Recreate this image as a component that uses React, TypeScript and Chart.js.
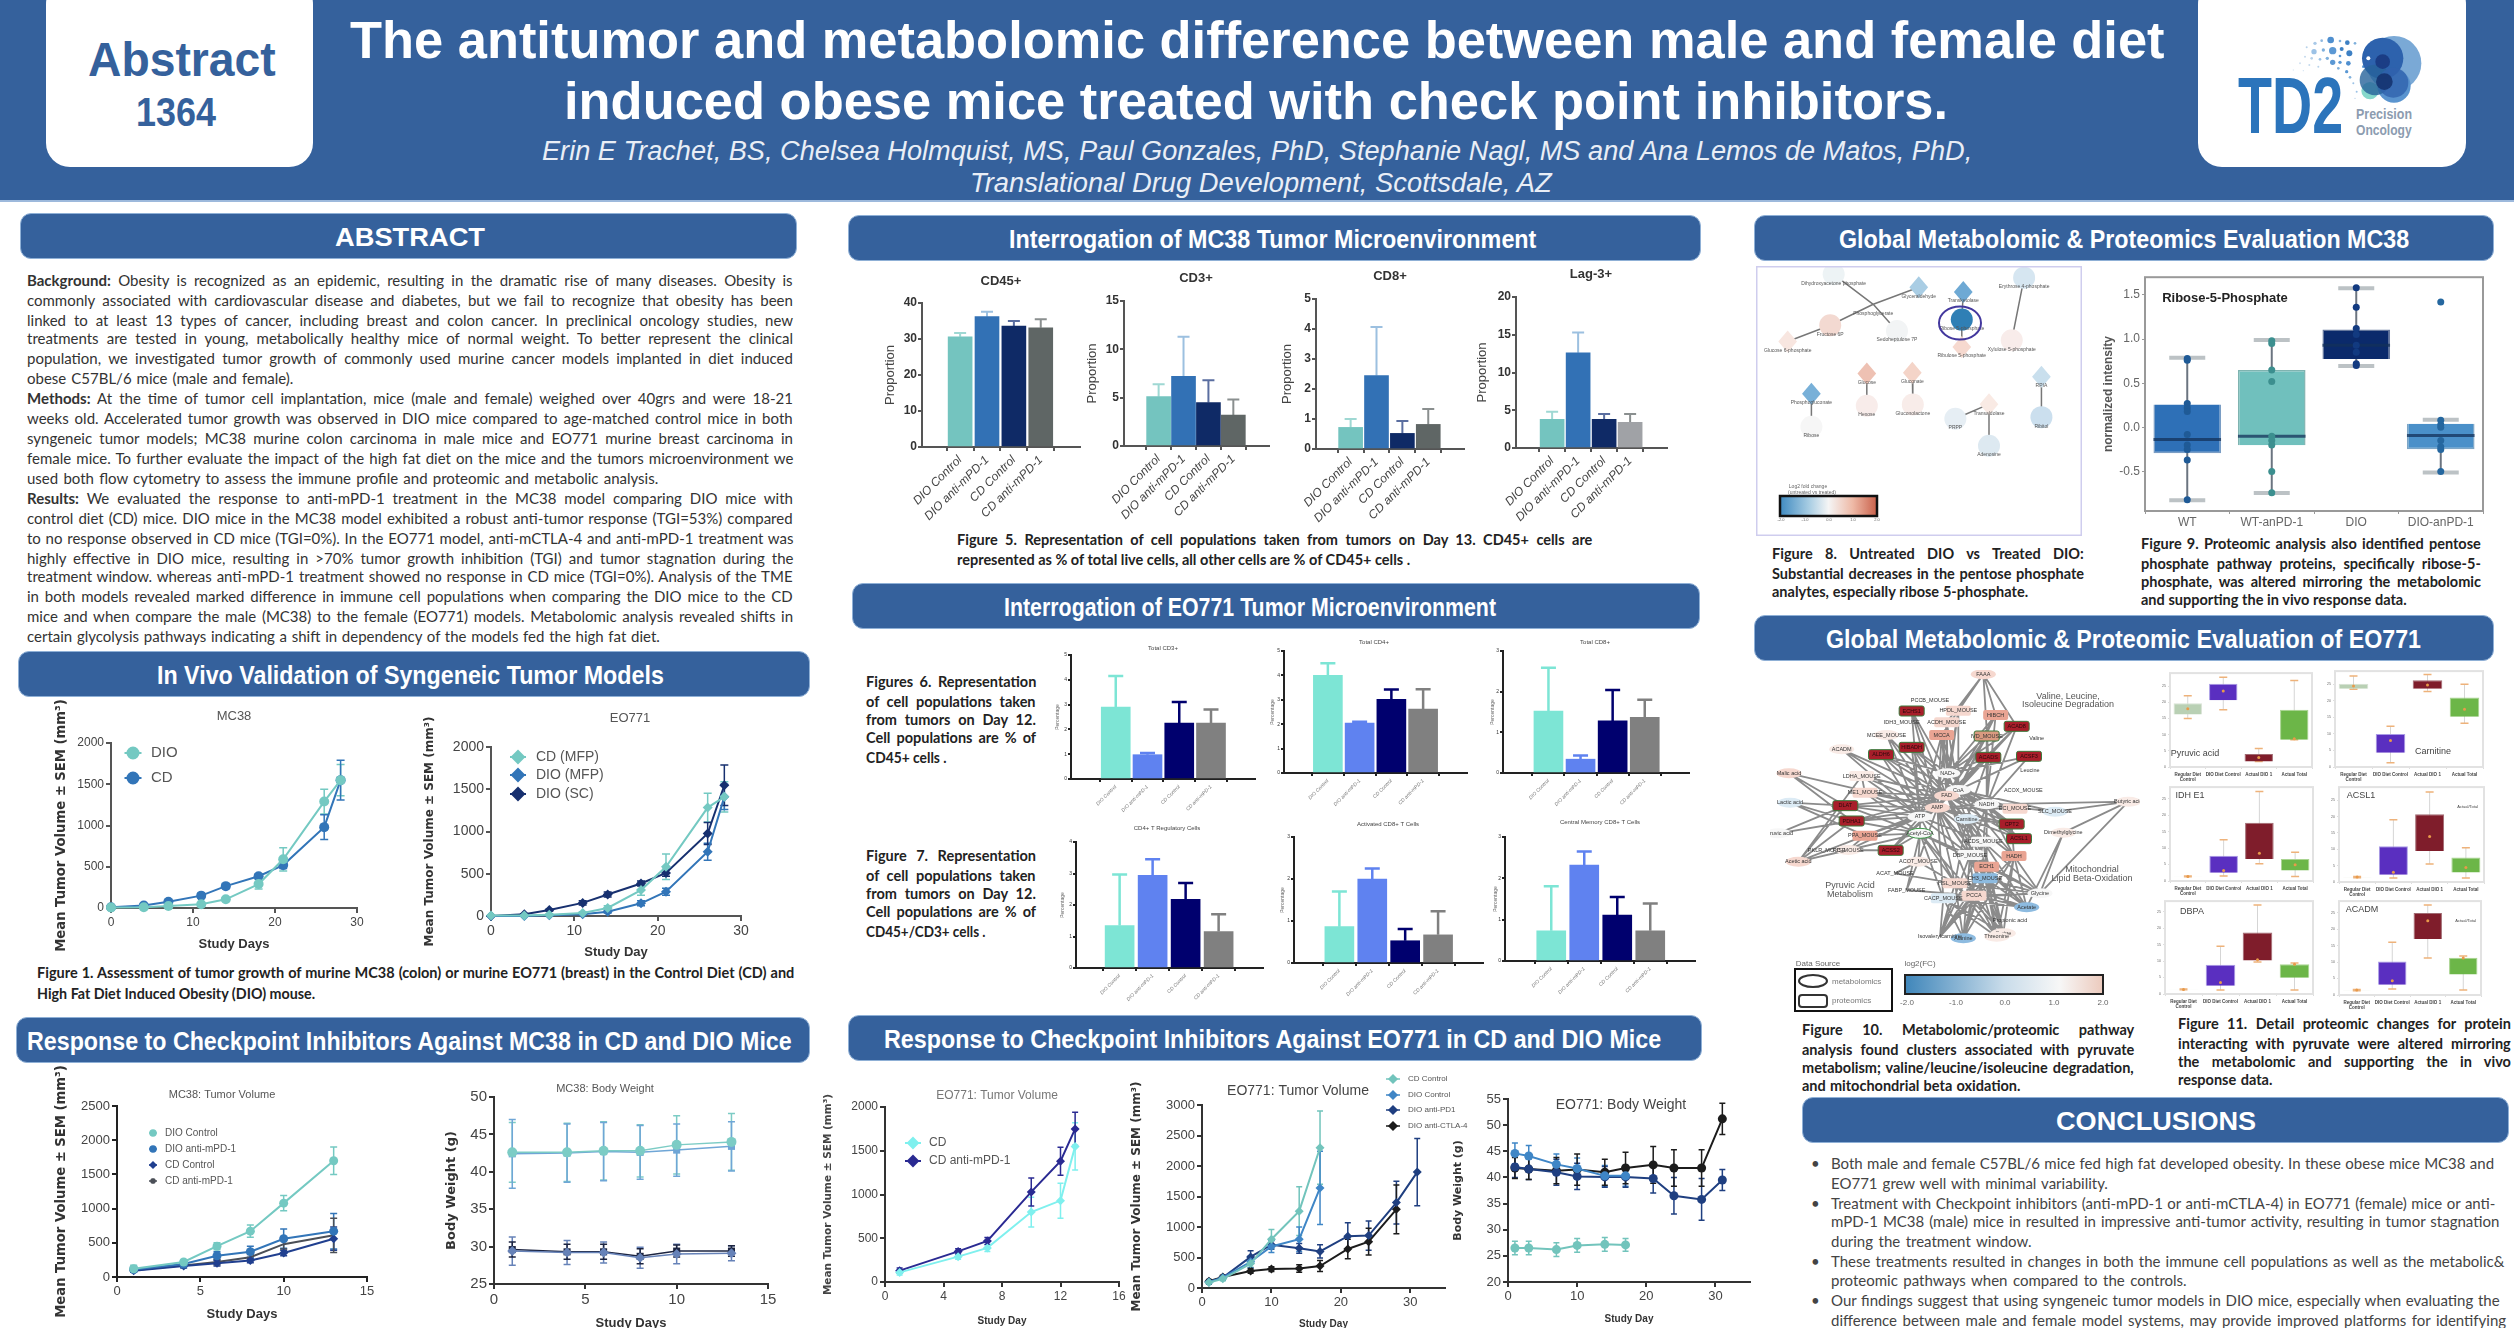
import React, { useEffect, useLayoutEffect, useRef } from 'react';
import { Chart, registerables } from 'chart.js';
import { drawPoint } from 'chart.js/helpers';

Chart.register(...registerables);

/* ---------- data: tumour growth ---------- */
const mc38Days = [0, 4, 7, 11, 14, 18, 21, 26, 28];
const mc38Dio = [5, 10, 25, 45, 105, 290, 590, 1290, 1550];
const mc38DioErr = [5, 5, 8, 15, 20, 60, 140, 150, 190];
const mc38Cd = [10, 30, 75, 150, 265, 385, 520, 980, 1550];
const mc38CdErr = [5, 8, 15, 30, 30, 30, 40, 150, 240];

const eoDays = [0, 4, 7, 11, 14, 18, 21, 26, 28];
const eoCdMfp = [5, 5, 15, 35, 95, 307, 583, 1283, 1410];
const eoCdMfpErr = [5, 5, 8, 15, 25, 60, 150, 170, 180];
const eoDioMfp = [0, 0, 10, 20, 50, 150, 287, 760, 1410];
const eoDioMfpErr = [3, 3, 5, 10, 15, 30, 40, 100, 150];
const eoDioSc = [0, 20, 70, 155, 255, 385, 510, 976, 1547];
const eoDioScErr = [3, 5, 10, 25, 30, 30, 40, 130, 240];

const mc38RespDays = [1, 4, 6, 8, 10, 13];
const tvDioCtrl = [120, 220, 450, 670, 1080, 1700];
const tvDioCtrlErr = [50, 30, 50, 90, 110, 200];
const tvDioAnti = [110, 190, 310, 370, 560, 670];
const tvDioAntiErr = [30, 30, 60, 80, 140, 260];
const tvCdCtrl = [90, 160, 200, 240, 350, 560];
const tvCdCtrlErr = [20, 30, 40, 30, 40, 170];
const tvCdAnti = [100, 170, 220, 290, 480, 610];
const tvCdAntiErr = [20, 20, 40, 40, 70, 250];

const bwDioCtrl = [42.6, 42.6, 42.8, 42.8, 43.6, 44.0];
const bwDioCtrlErr = [4.0, 3.9, 3.9, 3.5, 3.9, 3.8];
const bwDioAnti = [42.4, 42.5, 42.7, 42.6, 42.9, 43.4];
const bwDioAntiErr = [4.6, 3.9, 3.9, 3.6, 3.5, 3.3];
const bwCdCtrl = [29.4, 29.2, 29.2, 28.5, 29.0, 29.1];
const bwCdCtrlErr = [1.9, 1.6, 1.4, 1.4, 1.3, 1.0];
const bwCdAnti = [29.6, 29.3, 29.3, 28.7, 29.4, 29.4];
const bwCdAntiErr = [1, 1, 1, 1, 0.8, 0.7];

const eoADays = [1, 5, 7, 10, 12, 13];
const eoACd = [110, 290, 390, 800, 930, 1550];
const eoACdErr = [30, 30, 40, 170, 200, 270];
const eoAAnti = [130, 350, 470, 1030, 1380, 1750];
const eoAAntiErr = [30, 30, 40, 160, 160, 190];

const eoBShort = [1, 3, 7, 10, 14, 17];
const eoBMid = [1, 3, 7, 10, 14, 17, 21, 24, 28];
const eoBLong = [1, 3, 7, 10, 14, 17, 21, 24, 28, 31];
const eoBCd = [90, 150, 400, 800, 1260, 2300];
const eoBCdErr = [30, 30, 60, 160, 400, 600];
const eoBDio = [100, 170, 430, 680, 800, 1640];
const eoBDioErr = [30, 30, 100, 100, 200, 600];
const eoBPd1 = [100, 170, 510, 710, 650, 600, 850, 860, 1400, 1900];
const eoBPd1Err = [30, 30, 100, 70, 80, 110, 220, 240, 350, 550];
const eoBCtla = [110, 180, 280, 310, 320, 360, 640, 760, 1290];
const eoBCtlaErr = [30, 30, 40, 40, 60, 90, 160, 220, 400];

const eoCCd = [26.5, 26.5, 26.2, 27, 27.2, 27.1];
const eoCCdErr = [1.3, 1.3, 1.3, 1.3, 1.3, 1.2];
const eoCDio = [44.6, 44.1, 42.5, 41.7, 40.3, 40.3];
const eoCDioErr = [2, 2, 2, 2, 2, 2];
const eoCPd1 = [42, 41.6, 41, 40.2, 40.1, 40.1, 39.8, 36.5, 35.8, 39.5];
const eoCPd1Err = [2, 2, 2.5, 2.5, 2, 2, 2.8, 3.5, 4, 2];
const eoCCtla = [41.8, 41.6, 41.3, 41.5, 41, 41.8, 42.4, 41.8, 41.8, 51.2];
const eoCCtlaErr = [2, 2, 2.5, 3, 2.5, 3, 3.5, 3.5, 3.5, 3];

/* ---------- data: cell populations ---------- */
const cellCategories = ['DIO Control', 'DIO anti-mPD-1', 'CD Control', 'CD anti-mPD-1'];
const cd45Vals = [30.6, 36.2, 33.6, 33.1];
const cd45Tops = [31.7, 37.6, 35.0, 35.5];
const cd3Vals = [5.1, 7.2, 4.5, 3.2];
const cd3Tops = [6.4, 11.3, 6.8, 4.8];
const cd8Vals = [0.72, 2.45, 0.52, 0.82];
const cd8Tops = [1.0, 4.07, 0.93, 1.33];
const lag3Vals = [3.8, 12.6, 3.8, 3.4];
const lag3Tops = [4.8, 15.3, 4.5, 4.5];

const f6aVals = [2.9, 0.98, 2.25, 2.25];
const f6aTops = [4.15, 1.05, 3.1, 2.8];
const f6bVals = [4.0, 2.05, 3.02, 2.62];
const f6bTops = [4.5, 2.1, 3.42, 3.43];
const f6cVals = [1.52, 0.34, 1.28, 1.37];
const f6cTops = [2.59, 0.43, 2.04, 1.8];
const f7aVals = [1.35, 2.94, 2.18, 1.16];
const f7aTops = [2.97, 3.45, 2.7, 1.71];
const f7bVals = [0.865, 2.0, 0.53, 0.67];
const f7bTops = [1.7, 2.25, 0.81, 1.23];
const f7cVals = [0.73, 2.32, 1.11, 0.73];
const f7cTops = [1.81, 2.65, 1.55, 1.39];

/* ---------- data: box plots [low, q1, median, q3, high] ---------- */
const riboseCategories = ['WT', 'WT-anPD-1', 'DIO', 'DIO-anPD-1'];
const riboseBoxes = [
  [-0.825, -0.294, -0.138, 0.26, 0.788],
  [-0.744, -0.204, -0.1, 0.65, 0.989],
  [0.695, 0.773, 0.93, 1.108, 1.576],
  [-0.51, -0.249, -0.093, 0.04, 0.085],
];
const ribosePoints = [
  [0.78, 0.76, 0.27, 0.22, 0.18, -0.08, -0.2, -0.25, -0.37, -0.82],
  [0.98, 0.95, 0.65, 0.52, -0.1, -0.15, -0.2, -0.5, -0.74],
  [1.58, 1.36, 1.12, 1.05, 0.93, 0.85, 0.72, 0.7],
  [1.42, 0.08, 0.03, 0, -0.15, -0.22, -0.25, -0.5],
];
const proteinCategories = [['Regular Diet', 'Control'], 'DIO Diet Control', 'Actual DIO 1', 'Actual Total'];
const pyruvateBoxes = [[15, 16.2, 18, 19.7, 22], [17.7, 20.6, 23.5, 25.7, 27.7], [1.7, 1.7, 2.9, 4, 5.7], [8.4, 8.4, 8.7, 17.7, 26.7]];
const carnitineBoxes = [[23.5, 23.7, 24.5, 25.2, 27.5], [1.3, 4.3, 8, 10, 12.3], [22.8, 23.7, 24.8, 26.2, 28], [13.2, 15.2, 17.5, 21, 25]];
const idhBoxes = [[1.3, 1.35, 1.4, 1.45, 1.5], [1.5, 2.5, 3.2, 7.7, 12.5], [5.2, 6.7, 8.4, 17.7, 27.2], [1.4, 3.2, 4.9, 6.7, 8.7]];
const acslBoxes = [[1.3, 1.45, 1.5, 1.55, 1.7], [1.2, 2.2, 3, 10.9, 19], [5.5, 9.5, 13.9, 20.7, 27.5], [1.2, 2.9, 4.4, 7.5, 10.5]];
const dbpaBoxes = [[1.3, 1.35, 1.4, 1.45, 1.5], [1.2, 2.5, 3.5, 8.9, 14.5], [9.7, 10.2, 10.4, 18.7, 27], [1.2, 4.9, 9, 9, 9.4]];
const acadmBoxes = [[1.3, 1.45, 1.5, 1.55, 1.7], [1.8, 3.1, 4.3, 10.2, 16], [11.2, 17, 22.5, 24.9, 27.3], [1.5, 6.2, 11.2, 11.3, 11.8]];

/* ---------- data: networks: [x, y, shape, fill, label] ---------- */
const RED = '#a81e2a', SAL = '#e9a493', PINK = '#f6d8cf', PALE = '#f9ebe6', WHT = '#f7f7f7', BLU = '#8dbbe0', LBL = '#dcebf5';
const net10Nodes: any[] = [
  [640, 13, 'oval', PINK, 'FAAA'], [425, 123, 'rect', RED, 'ECHS1'], [565, 122, 'rect', PINK, 'HPDL_MOUSE'], [677, 135, 'rect', SAL, 'HIBCH'],
  [530, 157, 'rect', PINK, 'ACDH_MOUSE'], [740, 169, 'rect', RED, 'ACAD8'], [515, 195, 'rect', SAL, 'MCCA'], [650, 198, 'rectg', '#d99a80', 'IVD_MOUSE'],
  [425, 232, 'rect', RED, 'HIBADH'], [333, 254, 'rect', RED, 'ALDH6'], [655, 262, 'rect', RED, 'ACADS'], [777, 259, 'rect', RED, 'ACSF3'],
  [350, 195, 'oval', PALE, 'MCEE_MOUSE'], [215, 238, 'oval', PALE, 'ACADM'], [275, 318, 'rect', PALE, 'LDHA_MOUSE'], [57, 310, 'oval', PINK, 'Malic acid'],
  [60, 398, 'oval', LBL, 'Lactic acid'], [285, 368, 'rect', PINK, 'ME1_MOUSE'], [226, 407, 'rect', RED, 'DLAT'], [245, 453, 'rect', RED, 'PDHA1'],
  [285, 497, 'rect', SAL, 'PPA_MOUSE'], [25, 490, 'oval', WHT, 'Pyruvic acid'], [85, 575, 'oval', PINK, 'Acetic acid'], [235, 540, 'oval', PALE, 'PC_MOUSE'],
  [362, 541, 'rect', RED, 'ACSS2'], [445, 575, 'oval', PALE, 'ACOT_MOUSE'], [533, 310, 'oval', WHT, 'NAD+'], [565, 360, 'oval', WHT, 'CoA'],
  [530, 377, 'oval', PINK, 'FAD'], [502, 413, 'oval', PINK, 'AMP'], [450, 440, 'oval', WHT, 'ATP'], [590, 447, 'oval', LBL, 'Carnitine'],
  [650, 403, 'oval', WHT, 'NADH'], [450, 490, 'ovalg', WHT, 'Acetyl-CoA'], [725, 462, 'rect', RED, 'CPT2'], [747, 506, 'rect', RED, 'ACSL1'],
  [735, 416, 'rect', PINK, 'ECI_MOUSE'], [855, 425, 'oval', LBL, 'SLC_MOUSE'], [1075, 395, 'oval', PALE, 'Butyric acid'], [880, 488, 'oval', PALE, 'Dimethylglycine'],
  [640, 515, 'rect', WHT, 'ACDS_MOUSE'], [600, 555, 'rect', WHT, 'DBP_MOUSE'], [732, 558, 'rect', SAL, 'HADH'], [650, 590, 'rect', SAL, 'ECH1'],
  [645, 625, 'rect', BLU, 'CH3_MOUSE'], [555, 640, 'rect', PINK, 'HSL_MOUSE'], [612, 677, 'rect', PINK, 'PCCA'], [520, 685, 'rect', LBL, 'CACP_MOUSE'],
  [410, 660, 'none', '', 'FABP_MOUSE'], [770, 712, 'oval', BLU, 'Acetate'], [810, 670, 'oval', WHT, 'Glycine'], [720, 750, 'none', '', 'Propionic acid'],
  [700, 790, 'oval', PALE, 'Serine'], [580, 805, 'oval', BLU, 'Alanine'], [510, 800, 'none', '', 'Isovalerylcarnitine'], [680, 800, 'oval', PALE, 'Threonine'],
  [375, 610, 'none', '', 'ACAT_MOUSE'], [480, 92, 'none', '', 'PCCB_MOUSE'], [395, 157, 'none', '', 'IDH3_MOUSE'], [800, 205, 'none', '', 'Valine'],
  [780, 300, 'none', '', 'Leucine'], [760, 360, 'none', '', 'ACOX_MOUSE'], [170, 540, 'none', '', 'PKLR_MOUSE'],
];
const net10Edges = [
  [0, 2], [0, 3], [0, 4], [0, 5], [0, 6], [0, 10],
  [1, 26], [1, 28], [2, 26], [3, 26], [3, 27], [4, 26], [4, 28], [5, 27], [5, 26], [6, 26], [6, 28], [6, 29],
  [7, 26], [7, 28], [7, 27], [8, 26], [8, 28], [8, 29], [8, 30], [9, 28], [9, 29], [9, 30],
  [10, 26], [10, 27], [10, 28], [10, 32], [10, 31], [11, 27], [11, 32], [12, 28], [13, 30], [14, 29], [14, 30],
  [15, 18], [15, 19], [15, 29], [16, 19], [16, 18], [16, 20], [17, 29], [17, 30], [17, 28],
  [18, 30], [18, 29], [18, 28], [18, 33], [19, 30], [19, 33], [19, 29], [19, 28], [20, 33], [20, 30],
  [21, 18], [21, 19], [22, 19], [22, 20], [22, 18], [22, 14], [23, 30], [23, 33], [24, 33], [24, 30], [24, 29], [25, 29], [25, 33],
  [34, 31], [34, 32], [34, 27], [35, 31], [35, 32], [35, 28], [36, 32], [36, 28], [36, 29], [37, 32], [37, 27],
  [38, 32], [38, 39], [38, 37], [39, 50], [38, 50], [39, 49], [34, 42],
  [26, 31], [28, 31], [29, 31], [29, 41], [28, 41], [29, 40], [28, 40], [27, 40], [31, 41], [31, 43], [33, 41], [33, 45], [33, 47], [29, 45], [29, 43], [30, 45],
  [40, 52], [40, 53], [40, 50], [40, 54], [40, 55], [41, 53], [41, 54], [41, 52], [41, 55], [41, 50],
  [42, 50], [42, 49], [42, 52], [42, 53], [42, 54], [42, 55], [43, 53], [43, 54], [43, 52], [43, 50], [43, 55],
  [44, 53], [44, 54], [44, 52], [44, 50], [44, 55], [45, 53], [45, 54], [45, 52], [45, 50], [45, 55],
  [46, 53], [46, 54], [46, 52], [46, 50], [46, 55], [47, 54], [47, 53], [47, 52], [47, 49], [47, 50], [47, 55],
  [25, 48], [25, 56], [48, 46], [56, 45], [24, 23], [14, 17], [20, 23], [22, 23],
  [1, 29], [1, 30], [2, 27], [2, 28], [3, 28], [3, 32], [4, 27], [4, 29], [5, 28], [5, 32], [6, 27], [6, 30], [7, 29], [7, 32], [8, 27],
  [9, 26], [9, 27], [10, 29], [11, 28], [11, 26], [12, 29], [12, 30], [13, 28], [13, 29], [14, 28], [17, 33], [20, 29], [23, 29], [24, 28],
  [34, 28], [34, 29], [35, 27], [35, 29], [36, 27], [26, 30], [26, 32], [27, 32], [28, 32], [29, 32], [30, 33], [30, 41], [30, 40], [31, 40],
  [31, 42], [32, 40], [32, 42], [32, 43], [33, 43], [33, 46], [29, 46], [29, 44], [29, 47], [28, 43], [28, 44], [31, 44], [31, 45], [31, 46],
  [27, 42], [32, 41], [40, 49], [41, 49], [43, 49], [44, 49], [45, 49], [46, 49], [33, 48], [25, 45],
];
const net8Nodes: any[] = [
  [190, 222, 'circle', '#edf3f5', 'Dihydroxyacetone phosphate'], [362, 261, 'diamond', '#a9cde4', 'Glyceraldehyde'], [452, 275, 'diamond', '#6ea9d4', 'Transketolase'],
  [449, 358, 'circle', '#2f7fb5', 'Ribose 5-phosphate'], [575, 232, 'circle', '#d6e6f1', 'Erythrose 4-phosphate'], [318, 392, 'circle', '#f2f4f5', 'Sedoheptulose 7P'],
  [183, 375, 'circle', '#f3d9d1', 'Fructose 6P'], [97, 424, 'diamond', '#f8e6e0', 'Glucose 6-phosphate'], [449, 440, 'diamond', '#f6d9cf', 'Ribulose 5-phosphate'],
  [550, 420, 'circle', '#f8ecea', 'Xylulose 5-phosphate'], [257, 520, 'diamond', '#eec1b3', 'Glucose'], [349, 518, 'diamond', '#f4d4c8', 'Gluconate'],
  [257, 617, 'circle', '#f8ecea', 'Hexose'], [350, 613, 'circle', '#f8ece9', 'Gluconolactone'], [145, 581, 'diamond', '#78b0d8', 'Phosphogluconate'],
  [145, 680, 'circle', '#f6f6f6', 'Ribose'], [436, 656, 'circle', '#e6eef4', 'PRPP'], [504, 612, 'diamond', '#f9eae4', 'Transaldolase'],
  [504, 737, 'circle', '#dde9f1', 'Adenosine'], [610, 530, 'diamond', '#c9dfed', 'RPIA'], [610, 651, 'circle', '#cbdfee', 'Ribitol'],
  [270, 312, 'none', '', 'Phosphoglycerate'],
];
const net8Edges = [[0, 21], [1, 21], [21, 6], [6, 7], [21, 5], [2, 3], [3, 8], [4, 9], [10, 12], [11, 13], [14, 15], [16, 17], [17, 18], [19, 20]];

/* ---------- text ---------- */
const abstractLines: [string, string][] = [
  ['Background:', ' Obesity is recognized as an epidemic, resulting in the dramatic rise of many diseases. Obesity is'],
  ['', 'commonly associated with cardiovascular disease and diabetes, but we fail to recognize that obesity has been'],
  ['', 'linked to at least 13 types of cancer, including breast and colon cancer. In preclinical oncology studies, new'],
  ['', 'treatments are tested in young, metabolically healthy mice of normal weight. To better represent the clinical'],
  ['', 'population, we investigated tumor growth of commonly used murine cancer models implanted in diet induced'],
  ['', 'obese C57BL/6 mice (male and female).'],
  ['Methods:', ' At the time of tumor cell implantation, mice (male and female) weighed over 40grs and were 18-21'],
  ['', 'weeks old. Accelerated tumor growth was observed in DIO mice compared to age-matched control mice in both'],
  ['', 'syngeneic tumor models; MC38 murine colon carcinoma in male mice and EO771 murine breast carcinoma in'],
  ['', 'female mice. To further evaluate the impact of the high fat diet on the mice and the tumors microenvironment we'],
  ['', 'used both flow cytometry to assess the immune profile and proteomic and metabolic analysis.'],
  ['Results:', ' We evaluated the response to anti-mPD-1 treatment in the MC38 model comparing DIO mice with'],
  ['', 'control diet (CD) mice. DIO mice in the MC38 model exhibited a robust anti-tumor response (TGI=53%) compared'],
  ['', 'to no response observed in CD mice (TGI=0%). In the EO771 model, anti-mCTLA-4 and anti-mPD-1 treatment was'],
  ['', 'highly effective in DIO mice, resulting in >70% tumor growth inhibition (TGI) and tumor stagnation during the'],
  ['', 'treatment window. whereas anti-mPD-1 treatment showed no response in CD mice (TGI=0%). Analysis of the TME'],
  ['', 'in both models revealed marked difference in immune cell populations when comparing the DIO mice to the CD'],
  ['', 'mice and when compare the male (MC38) to the female (EO771) models. Metabolomic analysis revealed shifts in'],
  ['', 'certain glycolysis pathways indicating a shift in dependency of the models fed the high fat diet.'],
];
const abstractY = [280, 300, 320, 338, 358, 378, 398, 418, 438, 458, 478, 498, 518, 538, 558, 576, 596, 616, 636];
const abstractW = [766, 766, 766, 766, 766, 266, 766, 766, 766, 766, 631, 766, 766, 766, 766, 766, 766, 766, 633];

const conclusionLines: [string, number, number, boolean][] = [
  ['Both male and female C57BL/6 mice fed high fat developed obesity. In these obese mice MC38 and', 1163, 663, true],
  ['EO771 grew well with minimal variability.', 1183, 277, false],
  ['Treatment with Checkpoint inhibitors (anti-mPD-1 or anti-mCTLA-4) in EO771 (female) mice or anti-', 1203, 664, true],
  ['mPD-1 MC38 (male) mice in resulted in impressive anti-tumor activity, resulting in tumor stagnation', 1221, 668, false],
  ['during the treatment window.', 1241, 201, false],
  ['These treatments resulted in changes in both the immune cell populations as well as the metabolic&', 1261, 673, true],
  ['proteomic pathways when compared to the controls.', 1280, 356, false],
  ['Our findings suggest that using syngeneic tumor models in DIO mice, especially when evaluating the', 1300, 669, true],
  ['difference between male and female model systems, may provide improved platforms for identifying', 1320, 675, false],
];
const logoDots = [
  [422, 120, 10, '#4f8fcf'], [395, 122, 4, '#8fb8e0'], [375, 130, 5, '#a9c9e8'], [450, 123, 4, '#7fb0dc'], [472, 128, 7, '#3d80c4'], [495, 130, 4, '#7fb0dc'],
  [350, 142, 3, '#b8d2ea'], [372, 155, 8, '#9cc2e6'], [400, 150, 5, '#7fb0dc'], [428, 152, 11, '#5b98d4'], [455, 147, 6, '#3d80c4'], [478, 160, 9, '#3d80c4'],
  [345, 170, 3, '#c5daee'], [365, 175, 4, '#b8d2ea'], [390, 178, 4, '#9cc2e6'], [412, 175, 5, '#7fb0dc'], [450, 168, 4, '#5b98d4'], [475, 190, 7, '#4f8fcf'],
  [330, 190, 3, '#d3e3f2'], [358, 195, 3, '#c5daee'], [385, 200, 3, '#b8d2ea'], [428, 187, 8, '#5b98d4'], [450, 187, 5, '#5b98d4'], [520, 200, 4, '#5b98d4'],
  [445, 205, 4, '#7fb0dc'], [470, 215, 5, '#5b98d4'], [480, 232, 4, '#7fb0dc'], [490, 250, 3, '#9cc2e6'], [500, 275, 3, '#9cc2e6'], [495, 295, 2, '#b8d2ea'],
  [310, 210, 2, '#dbe8f4'], [340, 212, 2, '#d3e3f2'],
];
const logoWhiteDots = [[515, 148, 7], [507, 180, 9], [535, 175, 6], [497, 213, 7]];

/* ---------- layout / style ---------- */
const SANS = '"Liberation Sans", Arial, sans-serif';
const BODY = 'Lato, "Open Sans", sans-serif';
const WIDE = '"DejaVu Sans", sans-serif';
const BLUE = '#35619c';
const C_TEAL = '#74c9c2', C_BLUE = '#3275b8', C_NAVY = '#17306f';

/* ---------- plugins ---------- */
const overlay = {
  id: 'overlay',
  afterDraw(chart: any, _a: any, o: any) {
    if (!o || !o.items) return;
    const c = chart.ctx;
    const ox = o.ox || 0, oy = o.oy || 0;
    for (const it of o.items) {
      c.save();
      if (it.kind === 'grad') {
        const g = c.createLinearGradient(it.x - ox, 0, it.x - ox + it.w, 0);
        it.stops.forEach((s: any) => g.addColorStop(s[0], s[1]));
        c.fillStyle = g;
        c.fillRect(it.x - ox, it.y - oy, it.w, it.h);
        c.lineWidth = it.lw || 2;
        c.strokeStyle = it.stroke || '#222';
        c.strokeRect(it.x - ox, it.y - oy, it.w, it.h);
      } else if (it.kind === 'box') {
        c.lineWidth = it.lw || 2;
        c.strokeStyle = it.stroke || '#222';
        c.beginPath();
        c.roundRect(it.x - ox, it.y - oy, it.w, it.h, it.radius || 0);
        c.stroke();
      } else if (it.kind === 'oval') {
        c.lineWidth = it.lw || 2;
        c.strokeStyle = it.stroke || '#222';
        c.beginPath();
        c.ellipse(it.x - ox, it.y - oy, it.rx, it.ry, 0, 0, Math.PI * 2);
        c.stroke();
      } else if (it.kind === 'legend') {
        c.strokeStyle = it.color;
        c.fillStyle = it.color;
        c.lineWidth = it.lw || 2;
        c.beginPath();
        c.moveTo(it.x - it.len / 2 - ox, it.y - oy);
        c.lineTo(it.x + it.len / 2 - ox, it.y - oy);
        c.stroke();
        drawPoint(c, { pointStyle: it.style, radius: it.r, borderWidth: 1, rotation: 0 }, it.x - ox, it.y - oy);
        c.fillStyle = it.tcolor || '#444';
        c.font = it.font;
        c.textAlign = 'left';
        c.textBaseline = 'middle';
        c.fillText(it.text, it.labelX - ox, it.y - oy);
      } else {
        c.font = it.font;
        c.fillStyle = it.color || '#444';
        c.textAlign = it.align || 'center';
        c.textBaseline = 'middle';
        c.translate(it.x - ox, it.y - oy);
        if (it.rot) c.rotate(it.rot);
        c.fillText(it.text, 0, 0);
      }
      c.restore();
    }
    if (o.frame) {
      const a = chart.chartArea;
      c.save();
      c.strokeStyle = o.frame.color;
      c.lineWidth = o.frame.width;
      c.strokeRect(a.left, a.top, a.right - a.left, a.bottom - a.top);
      c.restore();
    }
  },
};
const errorBars = {
  id: 'errorBars',
  beforeDatasetsDraw(chart: any) {
    const c = chart.ctx;
    chart.data.datasets.forEach((ds: any, di: number) => {
      if (!ds.errs && !ds.tops) return;
      const meta = chart.getDatasetMeta(di);
      const yS = chart.scales.y;
      meta.data.forEach((pt: any, i: number) => {
        let hi, lo;
        if (ds.errs) {
          hi = yS.getPixelForValue(ds.data[i].y + ds.errs[i]);
          lo = yS.getPixelForValue(ds.data[i].y - ds.errs[i]);
        } else {
          hi = yS.getPixelForValue(ds.tops[i]);
          lo = yS.getPixelForValue(ds.data[i].y);
        }
        const col = Array.isArray(ds.errColor) ? ds.errColor[i] : ds.errColor;
        c.save();
        c.strokeStyle = col;
        c.lineWidth = ds.errWidth || 1.5;
        c.beginPath();
        c.moveTo(pt.x, hi);
        c.lineTo(pt.x, lo);
        const w = (ds.capW || 6) / 2;
        c.moveTo(pt.x - w, hi);
        c.lineTo(pt.x + w, hi);
        if (ds.errs) {
          c.moveTo(pt.x - w, lo);
          c.lineTo(pt.x + w, lo);
        }
        c.stroke();
        c.restore();
      });
    });
  },
};
const boxWhiskers = {
  id: 'boxWhiskers',
  beforeDatasetsDraw(chart: any) {
    const c = chart.ctx;
    chart.data.datasets.forEach((ds: any, di: number) => {
      if (!ds.boxes) return;
      const meta = chart.getDatasetMeta(di);
      const yS = chart.scales.y;
      ds.boxes.forEach((b: number[], i: number) => {
        const x = meta.data[i].x;
        c.save();
        c.strokeStyle = ds.stemColor;
        c.lineWidth = ds.stemWidth;
        c.beginPath();
        c.moveTo(x, yS.getPixelForValue(b[0]));
        c.lineTo(x, yS.getPixelForValue(b[4]));
        c.stroke();
        c.strokeStyle = ds.capColor;
        c.lineWidth = ds.capWidth;
        c.beginPath();
        [b[0], b[4]].forEach((v) => {
          c.moveTo(x - ds.capW / 2, yS.getPixelForValue(v));
          c.lineTo(x + ds.capW / 2, yS.getPixelForValue(v));
        });
        c.stroke();
        c.restore();
      });
    });
  },
  afterDatasetDraw(chart: any, args: any) {
    const ds = chart.data.datasets[args.index];
    if (!ds.boxes) return;
    const c = chart.ctx;
    const yS = chart.scales.y;
    args.meta.data.forEach((bar: any, i: number) => {
      const y = yS.getPixelForValue(ds.boxes[i][2]);
      c.save();
      if (ds.medianDot) {
        c.fillStyle = ds.medianColor;
        c.beginPath();
        c.arc(bar.x, y, ds.medianDot, 0, Math.PI * 2);
        c.fill();
      } else {
        c.strokeStyle = ds.medianColor;
        c.lineWidth = ds.medianWidth || 2;
        c.beginPath();
        c.moveTo(bar.x - bar.width / 2, y);
        c.lineTo(bar.x + bar.width / 2, y);
        c.stroke();
      }
      c.restore();
    });
  },
};
const netNodes = {
  id: 'netNodes',
  afterDatasetsDraw(chart: any, _a: any, o: any) {
    if (!o || !o.nodes) return;
    const c = chart.ctx;
    const X = chart.scales.x, Y = chart.scales.y;
    for (const n of o.nodes) {
      const x = X.getPixelForValue(n[0]), y = Y.getPixelForValue(n[1]);
      const shape = n[2];
      c.save();
      c.fillStyle = n[3] || 'transparent';
      if (shape === 'rect' || shape === 'rectg') {
        c.beginPath();
        c.roundRect(x - o.rw / 2, y - o.rh / 2, o.rw, o.rh, 2);
        c.fill();
        if (shape === 'rectg' || n[3] === RED) {
          c.strokeStyle = '#3b7a3c';
          c.lineWidth = 1;
          c.stroke();
        }
      } else if (shape === 'oval' || shape === 'ovalg') {
        c.beginPath();
        c.ellipse(x, y, o.rw / 2, o.rh / 2, 0, 0, Math.PI * 2);
        c.fill();
        if (shape === 'ovalg') {
          c.strokeStyle = '#3f9a4a';
          c.lineWidth = 1;
          c.stroke();
        }
      } else if (shape === 'circle') {
        c.beginPath();
        c.arc(x, y, o.r, 0, Math.PI * 2);
        c.fill();
      } else if (shape === 'diamond') {
        c.beginPath();
        c.moveTo(x, y - o.r);
        c.lineTo(x + o.r * 0.85, y);
        c.lineTo(x, y + o.r);
        c.lineTo(x - o.r * 0.85, y);
        c.closePath();
        c.fill();
      }
      if (n[4]) {
        const dark = n[3] === RED;
        c.fillStyle = dark ? '#2a0a0c' : o.labelColor;
        c.font = o.labelFont;
        c.textAlign = 'center';
        c.textBaseline = 'middle';
        c.fillText(n[4], x, y + (o.labelDy || 0));
      }
      c.restore();
    }
  },
};
Chart.register(overlay, errorBars, boxWhiskers, netNodes);

/* ---------- chart config helpers ---------- */
const axis = (color: string, width: number, tick: number) => ({
  border: { display: true, color, width },
  grid: { display: true, drawOnChartArea: false, drawTicks: true, tickLength: tick, color, lineWidth: width },
});

function base(rect: any, items: any[], frame?: any) {
  return {
    responsive: false,
    maintainAspectRatio: false,
    animation: false,
    layout: { autoPadding: false, padding: { left: 0, top: rect.mT, right: rect.mR, bottom: 0 } },
    plugins: {
      legend: { display: false },
      title: { display: false },
      tooltip: { enabled: false },
      overlay: { ox: rect.left, oy: rect.top, items, frame },
    },
  };
}

function rectFor(s: any, mT = 60, mR = 70) {
  const yLh = (s.yTitle?.size || 12) * 1.2;
  const xLh = (s.xTitle?.size || 12) * 1.2;
  const left = Math.floor(s.yTitle ? s.yTitle.x - yLh / 2 : s.l - (s.mL || 30));
  const top = s.t - mT;
  const bottom = Math.ceil(s.xTitle ? s.xTitle.y + xLh / 2 : s.b + (s.mB || 30));
  const right = s.r + mR;
  return { left, top, width: right - left, height: bottom - top, mL: s.l - left, mT, mR, mB: bottom - s.b };
}

function linePlot(s: any) {
  const rect = rectFor(s, s.mT || 60, s.mR || 70);
  const items: any[] = [];
  if (s.title) items.push({ text: s.title.text, x: s.title.x, y: s.title.y, font: s.title.font, color: s.title.color || '#555' });
  (s.series || []).forEach((d: any, i: number) => {
    if (s.legend)
      items.push({
        kind: 'legend', x: s.legend.x, y: s.legend.ys[i], len: s.legend.len, labelX: s.legend.labelX, color: d.color,
        style: d.style || 'circle', r: s.legend.r, text: d.label, font: s.legend.font, tcolor: s.legend.color, lw: s.legend.lw,
      });
  });
  const xA = axis(s.axisColor || '#555', s.axisW || 2, 5);
  const yA = axis(s.axisColor || '#555', s.axisW || 2, 5);
  const tick = { font: { family: SANS, size: s.tickSize || 12 }, color: s.tickColor || '#444', padding: 2, includeBounds: false, callback: (v: number) => String(v) };
  return {
    rect,
    config: {
      type: 'line',
      data: {
        datasets: s.series.map((d: any) => ({
          label: d.label,
          data: d.days.map((x: number, i: number) => ({ x, y: d.vals[i] })),
          errs: d.errs,
          errColor: d.color,
          errWidth: s.errW || 1.5,
          capW: s.capW || 7,
          borderColor: d.color,
          backgroundColor: d.color,
          borderWidth: s.lineW || 2,
          pointStyle: d.style || 'circle',
          pointRadius: s.pointR || 4,
          pointBorderWidth: 0,
          tension: 0,
          clip: false,
        })),
      },
      options: {
        ...base(rect, items),
        scales: {
          x: {
            type: 'linear', min: 0, max: s.xMax, ...xA,
            ticks: { ...tick, stepSize: s.xStep },
            title: s.xTitle ? { display: true, text: s.xTitle.text, padding: 0, color: s.xTitle.color || '#333', font: { family: s.xTitle.family || SANS, size: s.xTitle.size, weight: s.xTitle.weight || 'bold' } } : undefined,
            afterFit: (a: any) => { a.height = rect.mB; },
          },
          y: {
            type: 'linear', min: s.yMin || 0, max: s.yMax, ...yA,
            ticks: { ...tick, stepSize: s.yStep },
            title: s.yTitle ? { display: true, text: s.yTitle.text, padding: 0, color: s.yTitle.color || '#333', font: { family: s.yTitle.family || WIDE, size: s.yTitle.size, weight: s.yTitle.weight || 'bold' } } : undefined,
            afterFit: (a: any) => { a.width = rect.mL; },
          },
        },
      },
    },
  };
}

function barPlot(s: any) {
  const rect = rectFor(s, s.mT || 40, s.mR || 10);
  const spacing = (s.c3 - s.c0) / 3;
  const xMin = -(s.c0 - s.l) / spacing;
  const xMax = 3 + (s.r - s.c3) / spacing;
  const items = [{ text: s.title.text, x: s.title.x, y: s.title.y, font: s.title.font, color: s.title.color || '#333' }];
  const a = axis(s.axisColor || '#555', s.axisW || 2, s.tickLen || 4);
  return {
    rect,
    config: {
      type: 'bar',
      data: {
        datasets: [{
          label: s.title.text,
          data: s.vals.map((y: number, x: number) => ({ x, y })),
          tops: s.tops,
          errColor: s.errColors,
          errWidth: s.errW || 2,
          capW: s.capW || 10,
          backgroundColor: s.colors,
          barThickness: s.barW,
          borderWidth: 0,
          clip: false,
        }],
      },
      options: {
        ...base(rect, items),
        scales: {
          x: {
            type: 'linear', min: xMin, max: xMax, ...a,
            afterBuildTicks: (sc: any) => { sc.ticks = cellCategories.map((_, value) => ({ value })); },
            ticks: {
              autoSkip: false, minRotation: 45, maxRotation: 45, padding: s.labPad ?? 2,
              color: s.labColor || '#444',
              font: { family: SANS, size: s.labSize || 12, style: 'italic' },
              callback: (v: number) => cellCategories[v],
            },
            title: undefined,
            afterFit: (sc: any) => { sc.height = rect.mB; },
          },
          y: {
            type: 'linear', min: 0, max: s.yMax, ...a,
            ticks: { stepSize: s.yStep, color: '#333', padding: 1, font: { family: SANS, size: s.tickSize || 12, weight: s.tickWeight || 'normal' } },
            title: s.yTitle ? { display: true, text: s.yTitle.text, padding: 0, color: s.yTitle.color || '#444', font: { family: SANS, size: s.yTitle.size, weight: s.yTitle.weight || 'normal' } } : undefined,
            afterFit: (sc: any) => { sc.width = rect.mL; },
          },
        },
      },
    },
  };
}

function boxPlot(s: any) {
  const rect = rectFor(s, s.mT || 4, s.mR || 4);
  const q = s.boxes;
  const d0: any = {
    type: 'bar',
    label: s.label,
    data: q.map((b: number[]) => [b[1], b[3]]),
    boxes: q,
    backgroundColor: s.colors,
    borderColor: s.borders,
    borderWidth: s.borderW ?? 1,
    barPercentage: s.barPct || 0.8,
    categoryPercentage: 1,
    stemColor: s.stem,
    stemWidth: s.stemW,
    capColor: s.capC,
    capWidth: s.capLW,
    capW: s.capW,
    medianColor: s.median,
    medianDot: s.medianDot,
    medianWidth: s.medianW,
    order: 2,
  };
  const datasets: any[] = [d0];
  if (s.points) {
    datasets.push({
      type: 'scatter',
      label: 'samples',
      data: s.points.flatMap((arr: number[], x: number) => arr.map((y) => ({ x: s.cats[x], y }))),
      pointRadius: s.pointR || 3,
      backgroundColor: s.points.flatMap((arr: number[], x: number) => arr.map(() => s.pointColors[x])),
      borderWidth: 0,
      order: 1,
    });
  }
  const a = axis(s.axisColor || '#bbb', s.axisW || 1, s.tickLen ?? 3);
  return {
    rect,
    config: {
      type: 'bar',
      data: { labels: s.cats, datasets },
      options: {
        ...base(rect, s.items || [], s.frame),
        scales: {
          x: {
            type: 'category', offset: true, ...a,
            ticks: { autoSkip: false, maxRotation: 0, minRotation: 0, padding: s.labPad ?? 3, color: s.labColor || '#444', font: { family: SANS, size: s.labSize || 5, weight: s.labWeight || 'bold', lineHeight: 1.1 } },
            afterFit: (sc: any) => { sc.height = rect.mB; },
          },
          y: {
            type: 'linear', min: s.yMin ?? 0, max: s.yMax, ...a,
            ticks: {
              stepSize: s.yStep, includeBounds: false, color: s.tickColor || '#666', padding: 2,
              font: { family: SANS, size: s.tickSize || 4 },
              callback: s.tickFixed ? (v: number) => v.toFixed(s.tickFixed) : undefined,
            },
            title: s.yTitle ? { display: true, text: s.yTitle.text, padding: 0, color: s.yTitle.color || '#555', font: { family: SANS, size: s.yTitle.size, weight: s.yTitle.weight || 'normal' } } : undefined,
            afterFit: (sc: any) => { sc.width = rect.mL; },
          },
        },
      },
    },
  };
}

function netPlot(s: any) {
  const rect = { left: s.l, top: s.t, width: s.r - s.l, height: s.b - s.t, mL: 0, mT: 0, mR: 0, mB: 0 };
  const lineData: any[] = [];
  s.edges.forEach((e: number[]) => {
    lineData.push({ x: s.nodes[e[0]][0], y: s.nodes[e[0]][1] });
    lineData.push({ x: s.nodes[e[1]][0], y: s.nodes[e[1]][1] });
    lineData.push({ x: s.nodes[e[1]][0], y: null });
  });
  const opts: any = base(rect, s.items || [], s.frame);
  opts.plugins.netNodes = { ...s.node, nodes: s.nodes };
  return {
    rect,
    config: {
      type: 'scatter',
      data: {
        datasets: [{
          label: 'edges', data: lineData, showLine: true, spanGaps: false, pointRadius: 0,
          borderColor: s.edgeColor, borderWidth: s.edgeW,
        }],
      },
      options: {
        ...opts,
        scales: {
          x: { type: 'linear', display: false, min: s.xMin, max: s.xMax },
          y: { type: 'linear', display: false, min: s.yMin, max: s.yMax, reverse: true },
        },
      },
    },
  };
}

/* ---------- components ---------- */
function Plot({ spec }: { spec: any }) {
  const ref = useRef<HTMLCanvasElement>(null);
  useEffect(() => {
    const ch = new Chart(ref.current as any, spec.config);
    return () => ch.destroy();
  }, []);
  const r = spec.rect;
  return <canvas ref={ref} width={r.width} height={r.height} style={{ position: 'absolute', left: r.left, top: r.top, width: r.width, height: r.height, display: 'block' }} />;
}

function T({ x, cx, y, w, s, c = '#222', b, i, f = SANS, t, pre }: any) {
  const ref = useRef<HTMLDivElement>(null);
  useLayoutEffect(() => {
    const el = ref.current as HTMLDivElement;
    if (!w) return;
    const natural = el.offsetWidth;
    const gaps = (el.textContent?.match(/ /g) || []).length;
    if (f === BODY && w > natural && gaps > 0) {
      el.style.wordSpacing = `${(w - natural) / gaps}px`;
    } else {
      el.style.transform = `translateY(-50%) scaleX(${w / natural})`;
    }
  }, []);
  const left = cx !== undefined ? cx - w / 2 : x;
  return (
    <div ref={ref} style={{
      position: 'absolute', left, top: y, fontFamily: f, fontSize: s, color: c, fontWeight: b ? 700 : 400,
      fontStyle: i ? 'italic' : 'normal', whiteSpace: 'pre', lineHeight: 1, transformOrigin: 'left center', transform: 'translateY(-50%)',
    }}>
      {pre ? <b>{pre}</b> : null}{t}
    </div>
  );
}

function Header({ l, r, t, b, text, tx, tw }: any) {
  return (
    <>
      <div style={{ position: 'absolute', left: l, top: t, width: r - l, height: b - t, background: BLUE, borderRadius: 11, boxSizing: 'border-box', border: '1px solid #8fb0d6' }} />
      <T x={tx} y={(t + b) / 2 + 1} w={tw} s={26} c="#fff" b t={text} />
    </>
  );
}

function Caption({ lines, x, ys, widths, s = 14.5 }: any) {
  return lines.map((t: string, i: number) => <T key={i} x={x} y={ys[i]} w={widths[i]} s={s} f={BODY} b c="#222" t={t} />);
}

/* ---------- plot specs ---------- */
const F = (size: number, weight = 'normal', family = SANS) => `${weight} ${size}px ${family}`;

const pMc38 = linePlot({
  l: 111, r: 357, t: 743, b: 908, xMax: 30, xStep: 10, yMax: 2000, yStep: 500, tickSize: 12, lineW: 2, pointR: 5, capW: 8,
  title: { text: 'MC38', x: 234, y: 716, font: F(13) },
  yTitle: { text: 'Mean Tumor Volume ± SEM (mm³)', x: 62, size: 13.2 },
  xTitle: { text: 'Study Days', y: 944, size: 13 },
  legend: { x: 133, len: 17, labelX: 151, ys: [753, 778], r: 5.5, font: F(15), color: '#555' },
  series: [
    { label: 'DIO', color: C_TEAL, days: mc38Days, vals: mc38Dio, errs: mc38DioErr },
    { label: 'CD', color: C_BLUE, days: mc38Days, vals: mc38Cd, errs: mc38CdErr },
  ],
});
const pEo = linePlot({
  l: 491, r: 741, t: 747, b: 916, xMax: 30, xStep: 10, yMax: 2000, yStep: 500, tickSize: 14, lineW: 2, pointR: 5, capW: 8,
  title: { text: 'EO771', x: 630, y: 718, font: F(13) },
  yTitle: { text: 'Mean Tumor Volume ± SEM (mm³)', x: 431, size: 12 },
  xTitle: { text: 'Study Day', y: 952, size: 13 },
  legend: { x: 518, len: 16, labelX: 536, ys: [757, 775, 794], r: 6, font: F(14), color: '#555' },
  series: [
    { label: 'CD (MFP)', color: C_TEAL, style: 'rectRot', days: eoDays, vals: eoCdMfp, errs: eoCdMfpErr },
    { label: 'DIO (MFP)', color: C_BLUE, style: 'rectRot', days: eoDays, vals: eoDioMfp, errs: eoDioMfpErr },
    { label: 'DIO (SC)', color: C_NAVY, style: 'rectRot', days: eoDays, vals: eoDioSc, errs: eoDioScErr },
  ],
});
const pTv = linePlot({
  l: 117, r: 367, t: 1106, b: 1277, xMax: 15, xStep: 5, yMax: 2500, yStep: 500, tickSize: 13, axisColor: '#222', lineW: 2, pointR: 4.5, capW: 7,
  title: { text: 'MC38: Tumor Volume', x: 222, y: 1095, font: F(11) },
  yTitle: { text: 'Mean Tumor Volume ± SEM (mm³)', x: 62, size: 13.2 },
  xTitle: { text: 'Study Days', y: 1314, size: 13 },
  legend: { x: 153, len: 8, labelX: 165, ys: [1133, 1149, 1165, 1181], r: 3, font: F(10), color: '#555', lw: 1.5 },
  series: [
    { label: 'DIO Control', color: C_TEAL, days: mc38RespDays, vals: tvDioCtrl, errs: tvDioCtrlErr },
    { label: 'DIO anti-mPD-1', color: C_BLUE, days: mc38RespDays, vals: tvDioAnti, errs: tvDioAntiErr },
    { label: 'CD Control', color: '#203f8f', style: 'rectRot', days: mc38RespDays, vals: tvCdCtrl, errs: tvCdCtrlErr },
    { label: 'CD anti-mPD-1', color: '#4b4f57', style: 'star', days: mc38RespDays, vals: tvCdAnti, errs: tvCdAntiErr },
  ],
});
const pBw = linePlot({
  l: 494, r: 768, t: 1097, b: 1284, xMax: 15, xStep: 5, yMin: 25, yMax: 50, yStep: 5, tickSize: 15, axisColor: '#333', axisW: 2, lineW: 1.5, pointR: 5, capW: 7,
  title: { text: 'MC38: Body Weight', x: 605, y: 1089, font: F(11) },
  yTitle: { text: 'Body Weight (g)', x: 452, size: 13 },
  xTitle: { text: 'Study Days', y: 1323, size: 13 },
  series: [
    { label: 'DIO Control', color: '#7cccc5', days: mc38RespDays, vals: bwDioCtrl, errs: bwDioCtrlErr },
    { label: 'DIO anti-mPD-1', color: '#6fa6d6', style: 'rect', days: mc38RespDays, vals: bwDioAnti, errs: bwDioAntiErr },
    { label: 'CD Control', color: '#6682b8', style: 'rectRot', days: mc38RespDays, vals: bwCdCtrl, errs: bwCdCtrlErr },
    { label: 'CD anti-mPD-1', color: '#1c2440', style: 'rect', days: mc38RespDays, vals: bwCdAnti, errs: bwCdAntiErr },
  ],
});
const pEoA = linePlot({
  l: 885, r: 1119, t: 1107, b: 1282, xMax: 16, xStep: 4, yMax: 2000, yStep: 500, tickSize: 12, axisColor: '#333', lineW: 2, pointR: 4.5, capW: 6,
  title: { text: 'EO771: Tumor Volume', x: 997, y: 1096, font: F(12), color: '#777' },
  yTitle: { text: 'Mean Tumor Volume ± SEM (mm³)', x: 829, size: 10.5, color: '#444' },
  xTitle: { text: 'Study Day', y: 1321, size: 10 },
  legend: { x: 913, len: 16, labelX: 929, ys: [1143, 1161], r: 5, font: F(12), color: '#555' },
  series: [
    { label: 'CD', color: '#7ff0ee', style: 'rectRot', days: eoADays, vals: eoACd, errs: eoACdErr },
    { label: 'CD anti-mPD-1', color: '#2a2a92', style: 'rectRot', days: eoADays, vals: eoAAnti, errs: eoAAntiErr },
  ],
});
const pEoB = linePlot({
  l: 1202, r: 1445, t: 1105, b: 1288, xMax: 35, xStep: 10, yMax: 3000, yStep: 500, tickSize: 13, axisColor: '#333', lineW: 2, pointR: 4.5, capW: 6, mR: 100,
  title: { text: 'EO771: Tumor Volume', x: 1298, y: 1091, font: F(14), color: '#444' },
  yTitle: { text: 'Mean Tumor Volume ± SEM (mm³)', x: 1138, size: 12 },
  xTitle: { text: 'Study Day', y: 1324, size: 10 },
  legend: { x: 1393, len: 14, labelX: 1408, ys: [1079, 1095, 1110, 1126], r: 4, font: F(8), color: '#555', lw: 1.5 },
  series: [
    { label: 'CD Control', color: '#72c4bc', style: 'rectRot', days: eoBShort, vals: eoBCd, errs: eoBCdErr },
    { label: 'DIO Control', color: '#3f86c6', style: 'rectRot', days: eoBShort, vals: eoBDio, errs: eoBDioErr },
    { label: 'DIO anti-PD1', color: '#1f3f80', style: 'rectRot', days: eoBLong, vals: eoBPd1, errs: eoBPd1Err },
    { label: 'DIO anti-CTLA-4', color: '#1c1c1c', style: 'rectRot', days: eoBMid, vals: eoBCtla, errs: eoBCtlaErr },
  ],
});
const pEoC = linePlot({
  l: 1508, r: 1750, t: 1099, b: 1282, xMax: 35, xStep: 10, yMin: 20, yMax: 55, yStep: 5, tickSize: 13, axisColor: '#333', lineW: 2, pointR: 4.5, capW: 6, mR: 10,
  title: { text: 'EO771: Body Weight', x: 1621, y: 1105, font: F(14), color: '#444' },
  yTitle: { text: 'Body Weight (g)', x: 1459, size: 11 },
  xTitle: { text: 'Study Day', y: 1319, size: 10 },
  series: [
    { label: 'CD Control', color: '#72c4bc', days: eoBShort, vals: eoCCd, errs: eoCCdErr },
    { label: 'DIO Control', color: '#3f86c6', days: eoBShort, vals: eoCDio, errs: eoCDioErr },
    { label: 'DIO anti-PD1', color: '#1f3f80', days: eoBLong, vals: eoCPd1, errs: eoCPd1Err },
    { label: 'DIO anti-CTLA-4', color: '#1c1c1c', days: eoBLong, vals: eoCCtla, errs: eoCCtlaErr },
  ],
});

const fig5Colors = ['#74c4bf', '#3271b5', '#0f2a66', '#5f6665'];
const fig5Err = ['#9fd8d3', '#9cc0e0', '#5a6ea0', '#8a8f8f'];
const fig6Colors = ['#7de5d5', '#5f82f0', '#00006e', '#808080'];
const fig5 = (o: any) => barPlot({ barW: 24, errColors: fig5Err, colors: fig5Colors, capW: 12, errW: 2, mB: 76, labSize: 12, tickSize: 12, tickWeight: 'bold', ...o, yTitle: { text: 'Proportion', x: o.ytx, size: 13 } });
const pCd45 = fig5({ l: 922, r: 1080, t: 303, b: 447, c0: 946.5, c3: 1054, yMax: 40, yStep: 10, vals: cd45Vals, tops: cd45Tops, ytx: 891, title: { text: 'CD45+', x: 1001, y: 281, font: F(13, 'bold') } });
const pCd3 = fig5({ l: 1124, r: 1269, t: 301, b: 446, c0: 1146, c3: 1245.6, yMax: 15, yStep: 5, vals: cd3Vals, tops: cd3Tops, ytx: 1093, title: { text: 'CD3+', x: 1196, y: 278, font: F(13, 'bold') } });
const pCd8 = fig5({ l: 1316, r: 1464, t: 299, b: 449, c0: 1337.5, c3: 1441, yMax: 5, yStep: 1, vals: cd8Vals, tops: cd8Tops, ytx: 1288, title: { text: 'CD8+', x: 1390, y: 276, font: F(13, 'bold') } });
const pLag = fig5({ l: 1516, r: 1667, t: 297, b: 448, c0: 1539, c3: 1643, yMax: 20, yStep: 5, vals: lag3Vals, tops: lag3Tops, ytx: 1483, colors: ['#74c4bf', '#3271b5', '#0f2a66', '#a0a2a6'], title: { text: 'Lag-3+', x: 1591, y: 274, font: F(13, 'bold') } });

const fig6 = (o: any) => barPlot({
  barW: 29, errColors: fig6Colors, colors: fig6Colors, capW: 15, errW: 2.5, mB: 40, labSize: 5, labColor: '#777', tickSize: 5, axisColor: '#222', axisW: 2, tickLen: 3, mL: 24, mT: 30, mR: 4,
  ...o, yStep: 1,
  yTitle: { text: 'Percentage', x: o.ytx, size: 5, color: '#666' },
  title: { text: o.tt, x: o.tx, y: o.ty, font: F(6), color: '#444' },
});
const pF6a = fig6({ l: 1071, r: 1255, t: 655, b: 779, c0: 1100, c3: 1227, yMax: 5, vals: f6aVals, tops: f6aTops, ytx: 1058, tt: 'Total CD3+', tx: 1163, ty: 648 });
const pF6b = fig6({ l: 1284, r: 1467, t: 651, b: 773, c0: 1312, c3: 1439, yMax: 5, vals: f6bVals, tops: f6bTops, ytx: 1273, tt: 'Total CD4+', tx: 1374, ty: 642 });
const pF6c = fig6({ l: 1503, r: 1689, t: 651, b: 773, c0: 1532.6, c3: 1661, yMax: 3, vals: f6cVals, tops: f6cTops, ytx: 1493, tt: 'Total CD8+', tx: 1595, ty: 642 });
const pF7a = fig6({ l: 1076, r: 1263, t: 842, b: 968, c0: 1103, c3: 1235, yMax: 4, vals: f7aVals, tops: f7aTops, ytx: 1063, tt: 'CD4+ T Regulatory Cells', tx: 1167, ty: 828 });
const pF7b = fig6({ l: 1294, r: 1483, t: 837, b: 963, c0: 1323, c3: 1454.6, yMax: 3, vals: f7bVals, tops: f7bTops, ytx: 1283, tt: 'Activated CD8+ T Cells', tx: 1388, ty: 824 });
const pF7c = fig6({ l: 1505, r: 1695, t: 837, b: 961, c0: 1535, c3: 1667, yMax: 3, vals: f7cVals, tops: f7cTops, ytx: 1496, tt: 'Central Memory CD8+ T Cells', tx: 1600, ty: 822 });

const pRibose = boxPlot({
  l: 2145, r: 2483, t: 274, b: 511, mL: 60, mT: 6, mB: 22, yMin: -0.947, yMax: 1.7, yStep: 0.5, tickFixed: 1,
  label: 'Ribose-5-Phosphate', cats: riboseCategories, boxes: riboseBoxes, points: ribosePoints,
  pointColors: ['#1f5a96', '#3c8f8f', '#123a80', '#25679f'], pointR: 3.5,
  colors: ['#2e70b7', '#70c0bd', '#0b2a6b', '#4a90c9'], borders: ['#7a9dc4', '#7fb3b0', '#65779c', '#7ea6c6'], borderW: 1.5,
  stem: '#6b7480', stemW: 2, capC: '#bcc2c5', capLW: 4, capW: 36, median: 'rgba(20,50,90,.75)', medianW: 3,
  labSize: 12, labWeight: 'normal', labColor: '#666', tickSize: 12, tickColor: '#666', axisColor: '#999', labPad: 2, tickLen: 3,
  yTitle: { text: 'normalized intensity', x: 2109, size: 12, weight: 'bold', color: '#555' },
  frame: { color: '#999', width: 2 },
  items: [{ text: 'Ribose-5-Phosphate', x: 2225, y: 298, font: F(13, 'bold'), color: '#222' }],
});

const prot = (o: any) => boxPlot({
  mL: 10, mT: 3, mB: 22, yStep: 5, cats: proteinCategories, label: o.name,
  colors: ['#b9d0b4', '#5a2fc0', '#7f1d2b', '#6cb648'], borders: ['#d8e2d4', '#a99be6', '#a06a72', '#a9d490'], borderW: 1,
  stem: '#d5d5d5', stemW: 1, capC: '#eeb27a', capLW: 1.5, capW: 8, median: '#e89a4a', medianDot: 1.5,
  labSize: 4.5, tickSize: 3.5, axisColor: '#ddd', labPad: 3, tickLen: 2, frame: { color: '#e2e2e2', width: 2 },
  ...o,
  items: [{ text: o.name, x: o.nx, y: o.ny, font: F(9), color: '#444' }, ...(o.more || [])],
});
const pProtA = prot({ l: 2170, r: 2312, t: 672, b: 767, yMax: 29, boxes: pyruvateBoxes, name: 'Pyruvic acid', nx: 2195, ny: 754 });
const pProtB = prot({ l: 2335, r: 2483, t: 670, b: 767, yMax: 29, boxes: carnitineBoxes, name: 'Carnitine', nx: 2433, ny: 752 });
const pProtC = prot({ l: 2170, r: 2313, t: 786, b: 881, yMax: 28.5, boxes: idhBoxes, name: 'IDH E1', nx: 2190, ny: 796 });
const pProtD = prot({ l: 2339, r: 2484, t: 786, b: 882, yMax: 29, boxes: acslBoxes, name: 'ACSL1', nx: 2361, ny: 796, more: [{ text: 'Actual/Total', x: 2478, y: 807, font: F(4), color: '#444', align: 'right' }] });
const pProtE = prot({ l: 2165, r: 2313, t: 900, b: 994, yMax: 28.2, boxes: dbpaBoxes, name: 'DBPA', nx: 2192, ny: 912 });
const pProtF = prot({ l: 2339, r: 2481, t: 900, b: 995, yMax: 28.5, boxes: acadmBoxes, name: 'ACADM', nx: 2362, ny: 910, more: [{ text: 'Actual/Total', x: 2476, y: 921, font: F(4), color: '#444', align: 'right' }] });

const redBlue = [[0, '#3f8ac0'], [0.3, '#a8cde3'], [0.5, '#f5f5f5'], [0.75, '#eeb9a6'], [1, '#c9604a']];
const blueSoft = [[0, '#3f86ba'], [0.5, '#c9dcea'], [0.78, '#f7f7f7'], [1, '#eccabd']];
const pNet8 = netPlot({
  l: 1756, r: 2082, t: 266, b: 536, xMin: 33, xMax: 692, yMin: 197, yMax: 1008,
  nodes: net8Nodes, edges: net8Edges, edgeColor: '#777', edgeW: 1.5,
  node: { r: 11, rw: 20, rh: 20, labelColor: '#555', labelFont: F(5), labelDy: 9 },
  frame: { color: '#cfcdee', width: 3 },
  items: [
    { kind: 'oval', x: 1960, y: 323, rx: 21, ry: 16.5, stroke: '#43389e', lw: 2 },
    { kind: 'grad', x: 1780, y: 496, w: 97, h: 20, stops: redBlue, stroke: '#111', lw: 2.5 },
    { text: 'Log2 fold change', x: 1808, y: 487, font: F(5), color: '#666' },
    { text: '(untreated vs treated)', x: 1812, y: 493, font: F(5), color: '#666' },
    ...['-2.0', '-1.0', '0.0', '1.0', '2.0'].map((t, i) => ({ text: t, x: 1781 + i * 24, y: 520, font: F(4), color: '#666' })),
  ],
});
const pNet10 = netPlot({
  l: 1770, r: 2140, t: 670, b: 950, xMin: 0, xMax: 1110, yMin: 0, yMax: 840,
  nodes: net10Nodes, edges: net10Edges, edgeColor: '#8b8b8b', edgeW: 1.8,
  node: { rw: 25, rh: 10, r: 8, labelColor: '#333', labelFont: F(5.5), labelDy: 0 },
  items: [
    { text: 'Valine, Leucine,', x: 2068, y: 697, font: F(9), color: '#555' },
    { text: 'Isoleucine Degradation', x: 2068, y: 705, font: F(9), color: '#555' },
    { text: 'Mitochondrial', x: 2092, y: 870, font: F(9), color: '#555' },
    { text: 'Lipid Beta-Oxidation', x: 2092, y: 879, font: F(9), color: '#555' },
    { text: 'Pyruvic Acid', x: 1850, y: 886, font: F(9), color: '#555' },
    { text: 'Metabolism', x: 1850, y: 895, font: F(9), color: '#555' },
  ],
});
const pNetLegend = netPlot({
  l: 1790, r: 2115, t: 955, b: 1012, xMin: 0, xMax: 1, yMin: 0, yMax: 1, nodes: [], edges: [], edgeColor: '#000', edgeW: 0,
  node: {},
  items: [
    { text: 'Data Source', x: 1818, y: 964, font: F(8), color: '#666' },
    { text: 'log2(FC)', x: 1920, y: 964, font: F(8), color: '#666' },
    { kind: 'box', x: 1795, y: 969, w: 97, h: 42, stroke: '#111', lw: 2 },
    { kind: 'oval', x: 1813, y: 981, rx: 14, ry: 6, stroke: '#333', lw: 2 },
    { text: 'metabolomics', x: 1832, y: 982, font: F(8), color: '#777', align: 'left' },
    { kind: 'box', x: 1799, y: 995, w: 28, h: 12, radius: 3, stroke: '#333', lw: 2 },
    { text: 'proteomics', x: 1832, y: 1001, font: F(8), color: '#777', align: 'left' },
  ],
});
const pNetBar = netPlot({
  l: 1900, r: 2115, t: 970, b: 1012, xMin: 0, xMax: 1, yMin: 0, yMax: 1, nodes: [], edges: [], edgeColor: '#000', edgeW: 0,
  node: {},
  items: [
    { kind: 'grad', x: 1905, y: 975, w: 198, h: 19, stops: blueSoft, stroke: '#222', lw: 2 },
    ...['-2.0', '-1.0', '0.0', '1.0', '2.0'].map((t, i) => ({ text: t, x: 1907 + i * 49, y: 1003, font: F(8), color: '#666' })),
  ],
});

const plots = [pMc38, pEo, pTv, pBw, pCd45, pCd3, pCd8, pLag, pF6a, pF6b, pF6c, pF7a, pF7b, pF7c, pEoA, pEoC, pEoB, pNet8, pRibose, pNet10, pNetLegend, pNetBar, pProtA, pProtB, pProtC, pProtD, pProtE, pProtF];

export default function App() {
  return (
    <div style={{ position: 'relative', width: 2514, height: 1328, overflow: 'hidden', background: '#fff' }}>
      <style>{'html,body{margin:0;padding:0;background:#fff}'}</style>

      {/* banner */}
      <div style={{ position: 'absolute', left: 0, top: 0, width: 2514, height: 202, background: BLUE, borderBottom: '2px solid #9db9dc', boxSizing: 'border-box' }} />
      <div style={{ position: 'absolute', left: 46, top: -20, width: 267, height: 187, background: '#fff', borderRadius: 24 }} />
      <div style={{ position: 'absolute', left: 2198, top: -20, width: 268, height: 187, background: '#fff', borderRadius: 24 }} />
      <T x={88} y={60} w={188} s={48} b c={BLUE} t="Abstract" />
      <T x={136} y={112} w={80} s={40} b c={BLUE} t="1364" />
      <T x={350} y={40} w={1815} s={51} b c="#fff" t="The antitumor and metabolomic difference between male and female diet" />
      <T x={564} y={101} w={1384} s={51} b c="#fff" t="induced obese mice treated with check point inhibitors." />
      <T x={542} y={151} w={1430} s={27} i c="#e9eef6" t="Erin E Trachet, BS, Chelsea Holmquist, MS, Paul Gonzales, PhD, Stephanie Nagl, MS and Ana Lemos de Matos, PhD," />
      <T x={970} y={183} w={582} s={27} i c="#e9eef6" t="Translational Drug Development, Scottsdale, AZ" />

      {/* logo */}
      <svg style={{ position: 'absolute', left: 2190, top: 0 }} width={290} height={175} viewBox="0 0 870 525">
        {logoDots.map((d: any, i) => <circle key={i} cx={d[0]} cy={d[1]} r={d[2]} fill={d[3]} />)}
        <circle cx={540} cy={272} r={26} fill="#86d8cb" />
        <circle cx={612} cy={190} r={82} fill="#7aa9d6" />
        <circle cx={612} cy={258} r={50} fill="#5a94cf" />
        <circle cx={578} cy={175} r={62} fill="#2d62ad" />
        <circle cx={555} cy={240} r={46} fill="#27639a" fillOpacity={0.8} />
        <circle cx={610} cy={248} r={45} fill="#2f62ad" fillOpacity={0.8} />
        <circle cx={578} cy={185} r={22} fill="#1b3d85" />
        <circle cx={583} cy={245} r={25} fill="#13306c" fillOpacity={0.85} />
        {logoWhiteDots.map((d, i) => <circle key={i} cx={d[0]} cy={d[1]} r={d[2]} fill="#fff" />)}
      </svg>
      <T x={2238} y={106} w={105} s={80} b c="#2b74bb" t="TD2" />
      <T x={2356} y={114} w={56} s={14} b c="#8c9cb0" t="Precision" />
      <T x={2356} y={130} w={56} s={14} b c="#8c9cb0" t="Oncology" />

      {/* section headers */}
      <Header l={20} r={797} t={213} b={259} text="ABSTRACT" tx={335} tw={150} />
      <Header l={18} r={810} t={651} b={697} text="In Vivo Validation of Syngeneic Tumor Models" tx={157} tw={507} />
      <Header l={16} r={810} t={1017} b={1063} text="Response to Checkpoint Inhibitors Against MC38 in CD and DIO Mice" tx={27} tw={765} />
      <Header l={848} r={1701} t={215} b={261} text="Interrogation of MC38 Tumor Microenvironment" tx={1009} tw={527} />
      <Header l={852} r={1700} t={583} b={629} text="Interrogation of EO771 Tumor Microenvironment" tx={1004} tw={492} />
      <Header l={848} r={1702} t={1015} b={1061} text="Response to Checkpoint Inhibitors Against EO771 in CD and DIO Mice" tx={884} tw={777} />
      <Header l={1754} r={2494} t={215} b={261} text="Global Metabolomic & Proteomics Evaluation MC38" tx={1839} tw={570} />
      <Header l={1754} r={2494} t={615} b={661} text="Global Metabolomic & Proteomic Evaluation of EO771" tx={1826} tw={595} />
      <Header l={1802} r={2509} t={1097} b={1143} text="CONCLUSIONS" tx={2056} tw={200} />

      {/* abstract */}
      {abstractLines.map((l, i) => <T key={i} x={27} y={abstractY[i]} w={abstractW[i]} s={15} f={BODY} c="#333" pre={l[0]} t={l[1]} />)}

      {/* captions */}
      <Caption x={37} ys={[973, 994]} widths={[757, 278]} lines={[
        'Figure 1. Assessment of tumor growth of murine MC38 (colon) or murine EO771 (breast) in the Control Diet (CD) and',
        'High Fat Diet Induced Obesity (DIO) mouse.']} />
      <Caption x={957} ys={[540, 560]} widths={[635, 453]} lines={[
        'Figure 5. Representation of cell populations taken from tumors on Day 13. CD45+ cells are',
        'represented as % of total live cells, all other cells are % of CD45+ cells .']} />
      <Caption x={866} ys={[682, 702, 720, 738, 758]} widths={[170, 170, 170, 170, 81]} lines={[
        'Figures 6. Representation', 'of cell populations taken', 'from tumors on Day 12.', 'Cell populations are % of', 'CD45+ cells .']} />
      <Caption x={866} ys={[856, 876, 894, 912, 932]} widths={[170, 170, 170, 170, 120]} lines={[
        'Figure 7. Representation', 'of cell populations taken', 'from tumors on Day 12.', 'Cell populations are % of', 'CD45+/CD3+ cells .']} />
      <Caption x={1772} ys={[554, 574, 592]} widths={[312, 312, 256]} lines={[
        'Figure 8. Untreated DIO vs Treated DIO:', 'Substantial decreases in the pentose phosphate', 'analytes, especially ribose 5-phosphate.']} />
      <Caption x={2141} ys={[544, 564, 582, 600]} widths={[340, 340, 340, 266]} lines={[
        'Figure 9. Proteomic analysis also identified pentose', 'phosphate pathway proteins, specifically ribose-5-', 'phosphate, was altered mirroring the metabolomic', 'and supporting the in vivo response data.']} />
      <Caption x={1802} ys={[1030, 1050, 1068, 1086]} widths={[332, 332, 332, 218]} lines={[
        'Figure 10. Metabolomic/proteomic pathway', 'analysis found clusters associated with pyruvate', 'metabolism; valine/leucine/isoleucine degradation,', 'and mitochondrial beta oxidation.']} />
      <Caption x={2178} ys={[1024, 1044, 1062, 1080]} widths={[333, 333, 333, 94]} lines={[
        'Figure 11. Detail proteomic changes for protein', 'interacting with pyruvate were altered mirroring', 'the metabolomic and supporting the in vivo', 'response data.']} />

      {/* conclusions */}
      {conclusionLines.map((l, i) => (
        <React.Fragment key={i}>
          {l[3] ? <T x={1811} y={l[1]} s={15} c="#444" f={BODY} t="•" /> : null}
          <T x={1831} y={l[1]} w={l[2]} s={15} c="#444" f={BODY} t={l[0]} />
        </React.Fragment>
      ))}

      {plots.map((p, i) => <Plot key={i} spec={p} />)}
    </div>
  );
}
